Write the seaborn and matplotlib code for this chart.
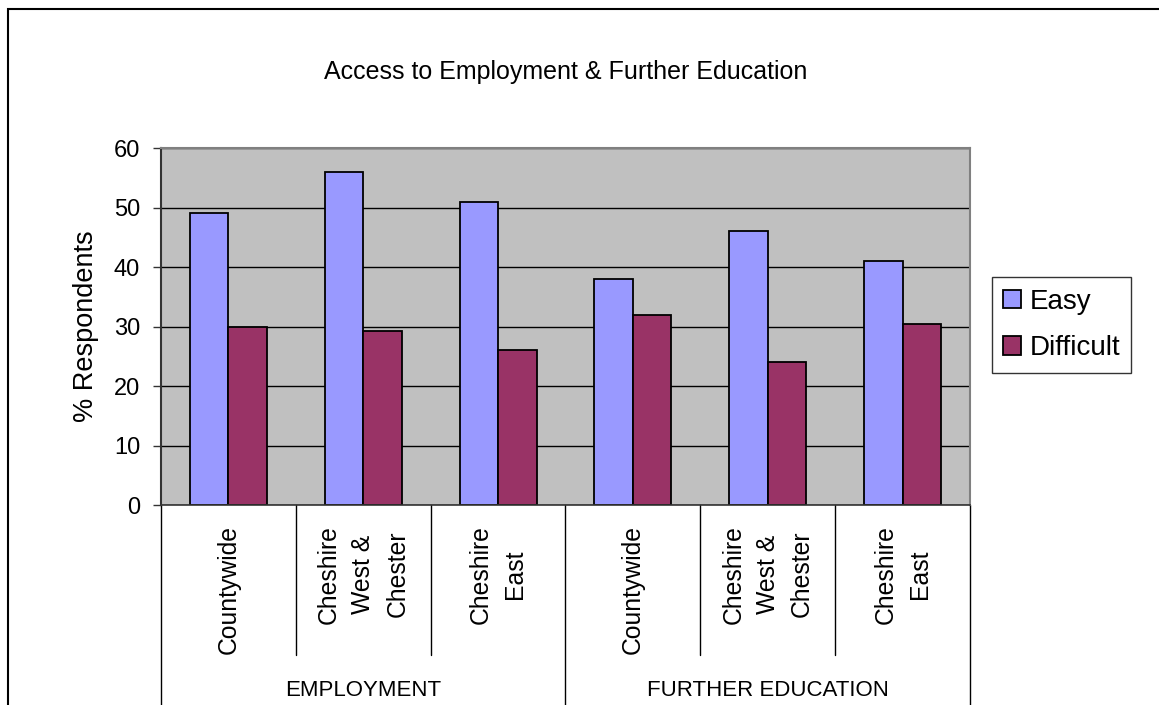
import matplotlib
matplotlib.use("Agg")
import matplotlib.pyplot as plt
import matplotlib.transforms as mtransforms
from matplotlib.patches import Rectangle
import pandas as pd
import seaborn as sns

groups = ["EMPLOYMENT", "FURTHER EDUCATION"]
areas = ["Countywide", "Cheshire\nWest &\nChester", "Cheshire\nEast"]
series = ["Easy", "Difficult"]
easy = [49, 56, 51, 38, 46, 41]
difficult = [30, 29.2, 26, 32, 24, 30.5]
colors = {"Easy": "#9999FF", "Difficult": "#993366"}

sns.set_style("white")
plt.rcParams["font.family"] = ["Liberation Sans", "DejaVu Sans"]
plt.rcParams["text.color"] = "black"
plt.rcParams["axes.labelcolor"] = "black"
plt.rcParams["ytick.color"] = "black"

slots = [f"{g}|{a}" for g in groups for a in areas]
rows = []
for i, s in enumerate(slots):
    rows.append({"slot": s, "series": "Easy", "value": easy[i]})
    rows.append({"slot": s, "series": "Difficult", "value": difficult[i]})
df = pd.DataFrame(rows)

W, H = 1159, 705
fig = plt.figure(figsize=(W / 100, H / 100), dpi=100)
ax = fig.add_axes([161 / W, 1 - 505 / H, (970 - 161) / W, (505 - 148) / H])

sns.barplot(data=df, x="slot", y="value", hue="series", order=slots,
            hue_order=series, palette=colors, width=0.57, edgecolor="black",
            linewidth=1.3, saturation=1, ax=ax, legend=True)

ax.set_facecolor("#C0C0C0")
ax.set_ylim(0, 60)
ax.set_xlim(-0.5, len(slots) - 0.5)
ax.set_yticks(range(0, 61, 10))
ax.yaxis.grid(True, color="black", linewidth=1)
ax.set_axisbelow(True)
ax.tick_params(axis="y", direction="out", length=6, width=1, pad=9,
               labelsize=17, left=True, color="#333333")
ax.set_xticks([])
ax.set_xlabel("")
ax.set_ylabel("% Respondents", fontsize=19.5, labelpad=11)
for side in ["top", "right"]:
    ax.spines[side].set_color("#808080")
    ax.spines[side].set_linewidth(1.5)
ax.spines["left"].set_color("#333333")
ax.spines["left"].set_linewidth(1.5)
ax.spines["bottom"].set_color("#333333")
ax.spines["bottom"].set_linewidth(1.2)

# category axis: labels and divider lines
trans = mtransforms.blended_transform_factory(ax.transData, ax.transAxes)
for k in range(len(slots) + 1):
    x = k - 0.5
    bottom = -0.6 if k % 3 == 0 else -0.42
    ax.plot([x, x], [0, bottom], transform=trans, color="black",
            linewidth=1, clip_on=False)
for i, s in enumerate(slots):
    ax.text(i, -0.055, s.split("|")[1], transform=trans, rotation=90,
            ha="center", va="top", multialignment="center", fontsize=17.8,
            linespacing=1.55)
for j, g in enumerate(groups):
    ax.text(3 * j + 1, -0.52, g, transform=trans, ha="center",
            va="center", fontsize=16)

ax.set_title("Access to Employment & Further Education", fontsize=18,
             pad=50)

leg = ax.legend(loc="center left", bbox_to_anchor=(992 / W, 1 - 325 / H),
                bbox_transform=fig.transFigure, fontsize=20, frameon=True,
                fancybox=False, edgecolor="black", handlelength=0.65,
                handleheight=0.65, handletextpad=0.3, borderpad=0.4,
                labelspacing=0.75, borderaxespad=0)
leg.get_frame().set_linewidth(1)

fig.patches.append(Rectangle((8 / W, -0.1), 1.2, 1 - 9 / H + 0.1,
                             transform=fig.transFigure, fill=False,
                             edgecolor="black", linewidth=1.5))

fig.savefig("out.png", dpi=100, facecolor="white")
